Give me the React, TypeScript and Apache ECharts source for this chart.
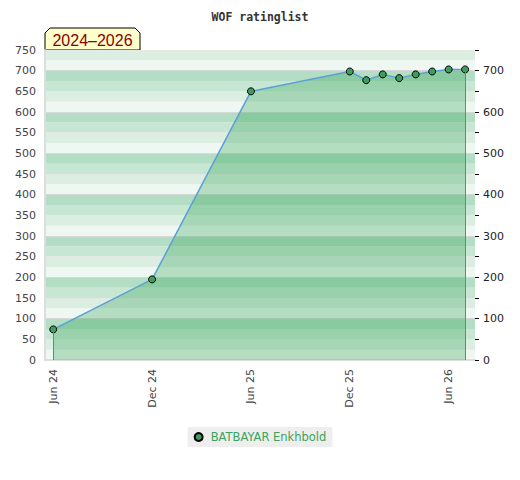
import React, { useEffect, useRef } from "react";
import * as echarts from "echarts";

const dates = ["2024-06", "2024-12", "2025-06", "2025-12", "2026-01", "2026-02", "2026-03", "2026-04", "2026-05", "2026-06", "2026-07"];
const ratings = [74, 195, 650, 698, 677, 691, 682, 691, 698, 703, 703];
const tickDates = ["2024-06", "2024-12", "2025-06", "2025-12", "2026-06"];
const tickLabels = ["Jun 24", "Dec 24", "Jun 25", "Dec 25", "Jun 26"];
const playerName = "BATBAYAR Enkhbold";
const chartTitle = "WOF ratinglist";
const periodLabel = "2024–2026";

const monthIndex = (s: string) => {
  const [y, m] = s.split("-").map(Number);
  return (y - 2024) * 12 + (m - 6);
};

export default function App() {
  const ref = useRef<HTMLDivElement>(null);
  useEffect(() => {
    document.body.style.margin = "0";
    if (!ref.current) return;
    const chart = echarts.init(ref.current, null, { renderer: "svg" });
    const pts = dates.map((d, i) => [monthIndex(d), ratings[i]]);
    const tickVals = tickDates.map(monthIndex);
    const first = pts[0];
    const last = pts[pts.length - 1];
    chart.setOption({
      animation: false,
      backgroundColor: "#ffffff",
      title: {
        text: chartTitle,
        left: "center",
        top: 6,
        textStyle: { fontFamily: "DejaVu Sans Mono", fontWeight: "bold", fontSize: 11.5, color: "#333" },
      },
      grid: { left: 45, right: 45, top: 50, bottom: 120 },
      legend: {
        data: [playerName],
        top: 427,
        left: "center",
        backgroundColor: "#eeeeee",
        padding: [4, 6],
        itemWidth: 14,
        itemHeight: 8,
        icon: "circle",
        textStyle: { color: "#3aa35c", fontFamily: "DejaVu Sans", fontSize: 11.5 },
      },
      xAxis: {
        type: "value",
        min: -0.5,
        max: 25.6,
        axisLine: { show: true, onZero: false, lineStyle: { color: "#dddddd", width: 2 } },
        axisTick: { show: false },
        splitLine: { show: false },
        axisLabel: {
          customValues: tickVals,
          rotate: 90,
          margin: 9,
          color: "#444",
          fontFamily: "DejaVu Sans",
          fontSize: 11,
          formatter: (v: number) => {
            const i = tickVals.indexOf(v);
            return i >= 0 ? tickLabels[i] : "";
          },
        },
      },
      yAxis: [
        {
          type: "value",
          position: "left",
          min: 0,
          max: 750,
          interval: 25,
          axisLine: { show: true, onZero: false, lineStyle: { color: "#dddddd", width: 2 } },
          axisTick: { show: false },
          axisLabel: {
            margin: 9,
            color: "#444",
            fontFamily: "DejaVu Sans",
            fontSize: 11,
            formatter: (v: number) => (v % 50 === 0 ? String(v) : ""),
          },
          splitLine: {
            show: true,
            lineStyle: { color: ["#d6d9d7", "rgba(0,0,0,0)", "#e2e8e4", "rgba(0,0,0,0)"], width: 1 },
          },
          splitArea: {
            show: true,
            areaStyle: { color: ["#eff7f2", "#dcede2", "#c8e6d4", "#b3ddc4"] },
          },
        },
        {
          type: "value",
          position: "right",
          min: 0,
          max: 750,
          interval: 50,
          axisLine: { show: false, onZero: false },
          axisTick: { show: true, inside: false, length: 4, lineStyle: { color: "#000" } },
          axisLabel: {
            margin: 8,
            color: "#222",
            fontFamily: "DejaVu Sans",
            fontSize: 11,
            formatter: (v: number) => (v % 100 === 0 ? String(v) : ""),
          },
          splitLine: { show: false },
        },
      ],
      graphic: [
        {
          type: "group",
          z: 100,
          children: [
            {
              type: "polygon",
              shape: { points: [[45, 50], [45, 33], [50, 28], [135, 28], [140, 33], [140, 50]] },
              style: { fill: "#ffffcc", stroke: "#000", lineWidth: 1 },
            },
            {
              type: "text",
              x: 92.5,
              y: 40,
              style: {
                text: periodLabel,
                fill: "#8b0000",
                font: '16px "Liberation Sans"',
                align: "center",
                verticalAlign: "middle",
              },
            },
          ],
        },
      ],
      series: [
        {
          name: playerName,
          type: "line",
          yAxisIndex: 0,
          data: pts,
          symbol: "circle",
          symbolSize: 7,
          showSymbol: true,
          itemStyle: { color: "#3d9d5c", borderColor: "#000", borderWidth: 1 },
          lineStyle: { color: "#5b9fd9", width: 1.5 },
          areaStyle: { color: "rgba(34,158,72,0.41)", origin: 0 },
          markLine: {
            silent: true,
            symbol: ["none", "none"],
            label: { show: false },
            lineStyle: { color: "#3aa55e", width: 1, type: "solid" },
            data: [
              [{ coord: [first[0], 0] }, { coord: [first[0], first[1]] }],
              [{ coord: [last[0], 0] }, { coord: [last[0], last[1]] }],
            ],
          },
        },
      ],
    });
    return () => chart.dispose();
  }, []);
  return <div ref={ref} style={{ width: 520, height: 480 }} />;
}
